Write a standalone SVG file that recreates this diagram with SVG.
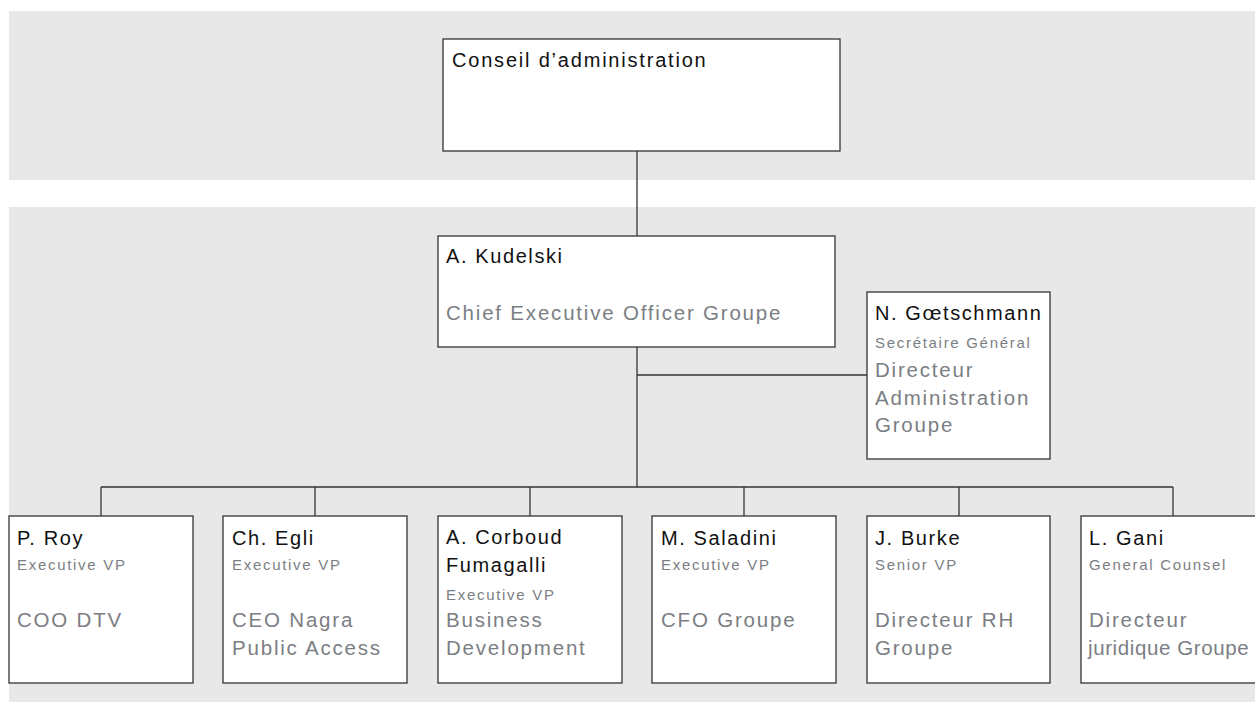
<svg xmlns="http://www.w3.org/2000/svg" width="1255" height="702" viewBox="0 0 1255 702">
<style>
.band{fill:#e8e8e8}
.box{fill:#fff;stroke:#333;stroke-width:1.3}
.ln{fill:none;stroke:#333;stroke-width:1.3}
text{font-family:"Liberation Sans",Arial,sans-serif}
.nm{font-size:20px;fill:#111;letter-spacing:1.6px}
.rl{font-size:20.5px;fill:#7b7e83;letter-spacing:1.8px}
.sm{font-size:15px;fill:#7b7e83;letter-spacing:1.7px}
</style>
<rect class="band" x="9" y="11" width="1246" height="169"/>
<rect class="band" x="9" y="207" width="1246" height="495"/>
<g id="connectors">
<line class="ln" x1="637" y1="151" x2="637" y2="236"/>
<line class="ln" x1="637" y1="347" x2="637" y2="487"/>
<line class="ln" x1="637" y1="375" x2="867" y2="375"/>
<line class="ln" x1="101" y1="487" x2="1173" y2="487"/>
<line class="ln" x1="101" y1="487" x2="101" y2="516"/>
<line class="ln" x1="315" y1="487" x2="315" y2="516"/>
<line class="ln" x1="530" y1="487" x2="530" y2="516"/>
<line class="ln" x1="744" y1="487" x2="744" y2="516"/>
<line class="ln" x1="959" y1="487" x2="959" y2="516"/>
<line class="ln" x1="1173" y1="487" x2="1173" y2="516"/>
</g>
<g id="conseil">
<rect class="box" x="443" y="39" width="397" height="112"/>
<text class="nm" x="452" y="67" style="letter-spacing:1.8px">Conseil d’administration</text>
</g>
<g id="kudelski">
<rect class="box" x="438" y="236" width="397" height="111"/>
<text class="nm" x="446" y="263">A. Kudelski</text>
<text class="rl" x="446" y="320">Chief Executive Officer Groupe</text>
</g>
<g id="goetschmann">
<rect class="box" x="867" y="292" width="183" height="167"/>
<text class="nm" x="875" y="320">N. Gœtschmann</text>
<text class="sm" x="875" y="348">Secrétaire Général</text>
<text class="rl" x="875" y="377">Directeur</text>
<text class="rl" x="875" y="405">Administration</text>
<text class="rl" x="875" y="432">Groupe</text>
</g>
<g id="roy">
<rect class="box" x="9" y="516" width="184" height="167"/>
<text class="nm" x="17" y="545">P. Roy</text>
<text class="sm" x="17" y="570">Executive VP</text>
<text class="rl" x="17" y="627">COO DTV</text>
</g>
<g id="egli">
<rect class="box" x="223" y="516" width="184" height="167"/>
<text class="nm" x="232" y="545">Ch. Egli</text>
<text class="sm" x="232" y="570">Executive VP</text>
<text class="rl" x="232" y="627">CEO Nagra</text>
<text class="rl" x="232" y="655">Public Access</text>
</g>
<g id="corboud">
<rect class="box" x="438" y="516" width="184" height="167"/>
<text class="nm" x="446" y="544">A. Corboud</text>
<text class="nm" x="446" y="572">Fumagalli</text>
<text class="sm" x="446" y="600">Executive VP</text>
<text class="rl" x="446" y="627">Business</text>
<text class="rl" x="446" y="655">Development</text>
</g>
<g id="saladini">
<rect class="box" x="652" y="516" width="184" height="167"/>
<text class="nm" x="661" y="545">M. Saladini</text>
<text class="sm" x="661" y="570">Executive VP</text>
<text class="rl" x="661" y="627">CFO Groupe</text>
</g>
<g id="burke">
<rect class="box" x="867" y="516" width="183" height="167"/>
<text class="nm" x="875" y="545">J. Burke</text>
<text class="sm" x="875" y="570">Senior VP</text>
<text class="rl" x="875" y="627">Directeur RH</text>
<text class="rl" x="875" y="655">Groupe</text>
</g>
<g id="gani">
<rect class="box" x="1081" y="516" width="190" height="167"/>
<text class="nm" x="1089" y="545">L. Gani</text>
<text class="sm" x="1089" y="570">General Counsel</text>
<text class="rl" x="1089" y="627">Directeur</text>
<text class="rl" x="1088" y="655" style="letter-spacing:0.6px">juridique Groupe</text>
</g>
</svg>
